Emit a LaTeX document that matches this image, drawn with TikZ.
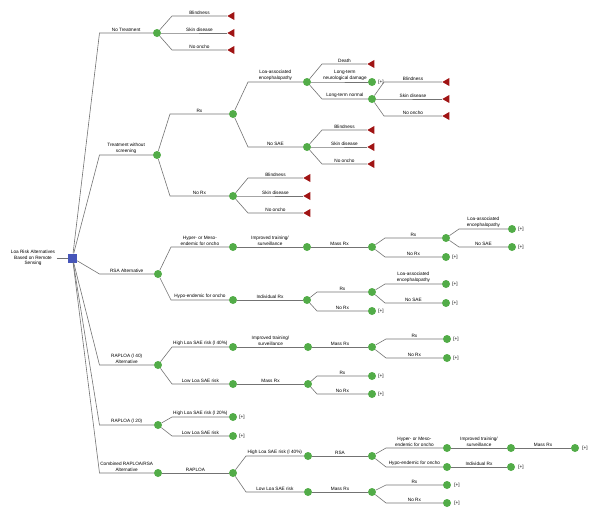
\documentclass[tikz,border=0pt]{standalone}
\usepackage{fontspec}
\setmainfont{Liberation Sans}
\usepackage{tikz}
\usetikzlibrary{positioning}
\usetikzlibrary{calc}
\usetikzlibrary{shapes.geometric}

\definecolor{chancegreen}{RGB}{82,172,72}
\definecolor{termred}{RGB}{160,20,20}
\definecolor{rootblue}{RGB}{70,85,185}
\definecolor{edgegray}{RGB}{115,115,115}

% slanted piece from the parent, then a flat piece with the label
\newcommand{\branch}[4][13]{%
	\draw[edge] (#2) -- ($(#2.center |- #3.center)+(#1,0)$) -- node[lbl] {#4} (#3);}

\begin{document}
\begin{tikzpicture}[x=1pt, y=-1pt,
		chance/.style={circle, fill=chancegreen, inner sep=0pt, minimum size=8pt},
		decision/.style={rectangle, fill=rootblue, inner sep=0pt, minimum size=9pt},
		term/.style={isosceles triangle, isosceles triangle apex angle=60, shape border rotate=180, fill=termred, inner sep=0pt, minimum size=7pt},
		edge/.style={draw=edgegray, line width=0.6pt},
		lbl/.style={above, inner sep=1.2pt, align=center, font=\fontsize{4.7}{5.6}\selectfont},
		plus/.style={inner sep=0pt, font=\fontsize{4.7}{5.6}\selectfont}]

		\useasboundingbox (0,0) rectangle (600,515);

		% Root decision
		\node[decision] (root) at (72.5,258) {};
		\node[align=center, inner sep=1.5pt, font=\fontsize{4.7}{5.6}\selectfont] (rootlbl) at (33,258) {Loa Risk Alternatives\\Based on Remote\\Sensing};
		\draw[edge] (rootlbl) -- (root);

		% Alternatives
		\node[chance] (nt) at (157,33) {};
		\node[chance] (tws) at (157,155) {};
		\node[chance] (rsa) at (158,274) {};
		\node[chance] (rap40) at (158,365) {};
		\node[chance] (rap20) at (158,425) {};
		\node[chance] (comb) at (158,473) {};
		\branch[27]{root}{nt}{No Treatment}
		\branch[27]{root}{tws}{Treatment without\\screening}
		\branch[27]{root}{rsa}{RSA Alternative}
		\branch[27]{root}{rap40}{RAPLOA (l 40)\\Alternative}
		\branch[27]{root}{rap20}{RAPLOA (l 20)}
		\branch[27]{root}{comb}{Combined RAPLOA/RSA\\Alternative}

		% No treatment
		\node[term] (ntb) at (232,16) {};
		\node[term] (nts) at (232,33) {};
		\node[term] (ntn) at (232,50) {};
		\branch[15]{nt}{ntb}{Blindness}
		\branch[15]{nt}{nts}{Skin disease}
		\branch[15]{nt}{ntn}{No oncho}

		% Treatment without screening
		\node[chance] (twsrx) at (233,114) {};
		\node[chance] (twsnorx) at (233,196) {};
		\branch{tws}{twsrx}{Rx}
		\branch{tws}{twsnorx}{No Rx}

		\node[chance] (enc) at (307,82) {};
		\node[chance] (nosae) at (307,147) {};
		\branch[15]{twsrx}{enc}{Loa-associated\\encephalopathy}
		\branch[15]{twsrx}{nosae}{No SAE}

		\node[term] (death) at (372,64) {};
		\node[chance] (ltnd) at (372,82) {};
		\node[plus, right=2pt of ltnd] (ltndp) {[+]};
		\node[chance] (ltn) at (372,99) {};
		\branch[15]{enc}{death}{Death}
		\branch[15]{enc}{ltnd}{Long-term\\neurological damage}
		\branch[15]{enc}{ltn}{Long-term normal}

		\node[term] (ltnb) at (447,82) {};
		\node[term] (ltns) at (447,99) {};
		\node[term] (ltnn) at (447,116) {};
		\branch[12]{ltn}{ltnb}{Blindness}
		\branch[12]{ltn}{ltns}{Skin disease}
		\branch[12]{ltn}{ltnn}{No oncho}

		\node[term] (nosaeb) at (372,130) {};
		\node[term] (nosaes) at (372,147) {};
		\node[term] (nosaen) at (372,164) {};
		\branch[15]{nosae}{nosaeb}{Blindness}
		\branch[15]{nosae}{nosaes}{Skin disease}
		\branch[15]{nosae}{nosaen}{No oncho}

		\node[term] (norxb) at (308,178) {};
		\node[term] (norxs) at (308,196) {};
		\node[term] (norxn) at (308,213) {};
		\branch[15]{twsnorx}{norxb}{Blindness}
		\branch[15]{twsnorx}{norxs}{Skin disease}
		\branch[15]{twsnorx}{norxn}{No oncho}

		% RSA alternative
		\node[chance] (rsahyp) at (233,247) {};
		\node[chance] (rsahypo) at (233,300) {};
		\branch{rsa}{rsahyp}{Hyper- or Meso-\\endemic for oncho}
		\branch{rsa}{rsahypo}{Hypo-endemic for oncho}

		\node[chance] (rsaits) at (307,247) {};
		\node[chance] (rsamrx) at (372,247) {};
		\draw[edge] (rsahyp) -- node[lbl] {Improved training/\\surveillance} (rsaits);
		\draw[edge] (rsaits) -- node[lbl] {Mass Rx} (rsamrx);

		\node[chance] (rsarx) at (446,238) {};
		\node[chance] (rsanorx) at (446,257) {};
		\node[plus, right=2pt of rsanorx] (rsanorxp) {[+]};
		\branch{rsamrx}{rsarx}{Rx}
		\branch{rsamrx}{rsanorx}{No Rx}

		\node[chance] (rsaenc) at (512,229) {};
		\node[plus, right=2pt of rsaenc] (rsaencp) {[+]};
		\node[chance] (rsanosae) at (512,247) {};
		\node[plus, right=2pt of rsanosae] (rsanosaep) {[+]};
		\branch{rsarx}{rsaenc}{Loa-associated\\encephalopathy}
		\branch{rsarx}{rsanosae}{No SAE}

		\node[chance] (rsairx) at (307,300) {};
		\draw[edge] (rsahypo) -- node[lbl] {Individual Rx} (rsairx);

		\node[chance] (irxrx) at (372,292) {};
		\node[chance] (irxnorx) at (372,311) {};
		\node[plus, right=2pt of irxnorx] (irxnorxp) {[+]};
		\branch[10]{rsairx}{irxrx}{Rx}
		\branch[10]{rsairx}{irxnorx}{No Rx}

		\node[chance] (irxenc) at (446,284) {};
		\node[plus, right=2pt of irxenc] (irxencp) {[+]};
		\node[chance] (irxnosae) at (446,303) {};
		\node[plus, right=2pt of irxnosae] (irxnosaep) {[+]};
		\branch{irxrx}{irxenc}{Loa-associated\\encephalopathy}
		\branch{irxrx}{irxnosae}{No SAE}

		% RAPLOA (l 40) alternative
		\node[chance] (r40hi) at (233,347) {};
		\node[chance] (r40lo) at (233,384) {};
		\branch[14]{rap40}{r40hi}{High Loa SAE risk (l 40\%)}
		\branch[14]{rap40}{r40lo}{Low Loa SAE risk}

		\node[chance] (r40its) at (308,347) {};
		\node[chance] (r40mrx) at (372,347) {};
		\draw[edge] (r40hi) -- node[lbl] {Improved training/\\surveillance} (r40its);
		\draw[edge] (r40its) -- node[lbl] {Mass Rx} (r40mrx);

		\node[chance] (r40rx) at (447,339) {};
		\node[plus, right=2pt of r40rx] (r40rxp) {[+]};
		\node[chance] (r40norx) at (447,358) {};
		\node[plus, right=2pt of r40norx] (r40norxp) {[+]};
		\branch[14]{r40mrx}{r40rx}{Rx}
		\branch[14]{r40mrx}{r40norx}{No Rx}

		\node[chance] (r40lmrx) at (308,384) {};
		\draw[edge] (r40lo) -- node[lbl] {Mass Rx} (r40lmrx);

		\node[chance] (r40lrx) at (372,376) {};
		\node[plus, right=2pt of r40lrx] (r40lrxp) {[+]};
		\node[chance] (r40lnorx) at (372,394) {};
		\node[plus, right=2pt of r40lnorx] (r40lnorxp) {[+]};
		\branch[9]{r40lmrx}{r40lrx}{Rx}
		\branch[9]{r40lmrx}{r40lnorx}{No Rx}

		% RAPLOA (l 20)
		\node[chance] (r20hi) at (233,417) {};
		\node[plus, right=2pt of r20hi] (r20hip) {[+]};
		\node[chance] (r20lo) at (233,436) {};
		\node[plus, right=2pt of r20lo] (r20lop) {[+]};
		\branch[14]{rap20}{r20hi}{High Loa SAE risk (l 20\%)}
		\branch[14]{rap20}{r20lo}{Low Loa SAE risk}

		% Combined RAPLOA/RSA
		\node[chance] (cbrap) at (233,473) {};
		\draw[edge] (comb) -- node[lbl] {RAPLOA} (cbrap);

		\node[chance] (cbhi) at (308,456) {};
		\node[chance] (cblo) at (308,492) {};
		\branch{cbrap}{cbhi}{High Loa SAE risk (l 40\%)}
		\branch{cbrap}{cblo}{Low Loa SAE risk}

		\node[chance] (cbrsa) at (372,456) {};
		\draw[edge] (cbhi) -- node[lbl] {RSA} (cbrsa);

		\node[chance] (cbhyp) at (447,448) {};
		\node[chance] (cbhypo) at (447,467) {};
		\branch[14]{cbrsa}{cbhyp}{Hyper- or Meso-\\endemic for oncho}
		\branch[14]{cbrsa}{cbhypo}{Hypo-endemic for oncho}

		\node[chance] (cbits) at (511,448) {};
		\node[chance] (cbmrx) at (575,448) {};
		\node[plus, right=3pt of cbmrx] (cbmrxp) {[+]};
		\draw[edge] (cbhyp) -- node[lbl] {Improved training/\\surveillance} (cbits);
		\draw[edge] (cbits) -- node[lbl] {Mass Rx} (cbmrx);

		\node[chance] (cbirx) at (511,467) {};
		\node[plus, right=3pt of cbirx] (cbirxp) {[+]};
		\draw[edge] (cbhypo) -- node[lbl] {Individual Rx} (cbirx);

		\node[chance] (cblmrx) at (372,492) {};
		\draw[edge] (cblo) -- node[lbl] {Mass Rx} (cblmrx);

		\node[chance] (cbrx) at (447,485) {};
		\node[plus, right=3pt of cbrx] (cbrxp) {[+]};
		\node[chance] (cbnorx) at (447,503) {};
		\node[plus, right=3pt of cbnorx] (cbnorxp) {[+]};
		\branch[14]{cblmrx}{cbrx}{Rx}
		\branch[14]{cblmrx}{cbnorx}{No Rx}
	\end{tikzpicture}
\end{document}
